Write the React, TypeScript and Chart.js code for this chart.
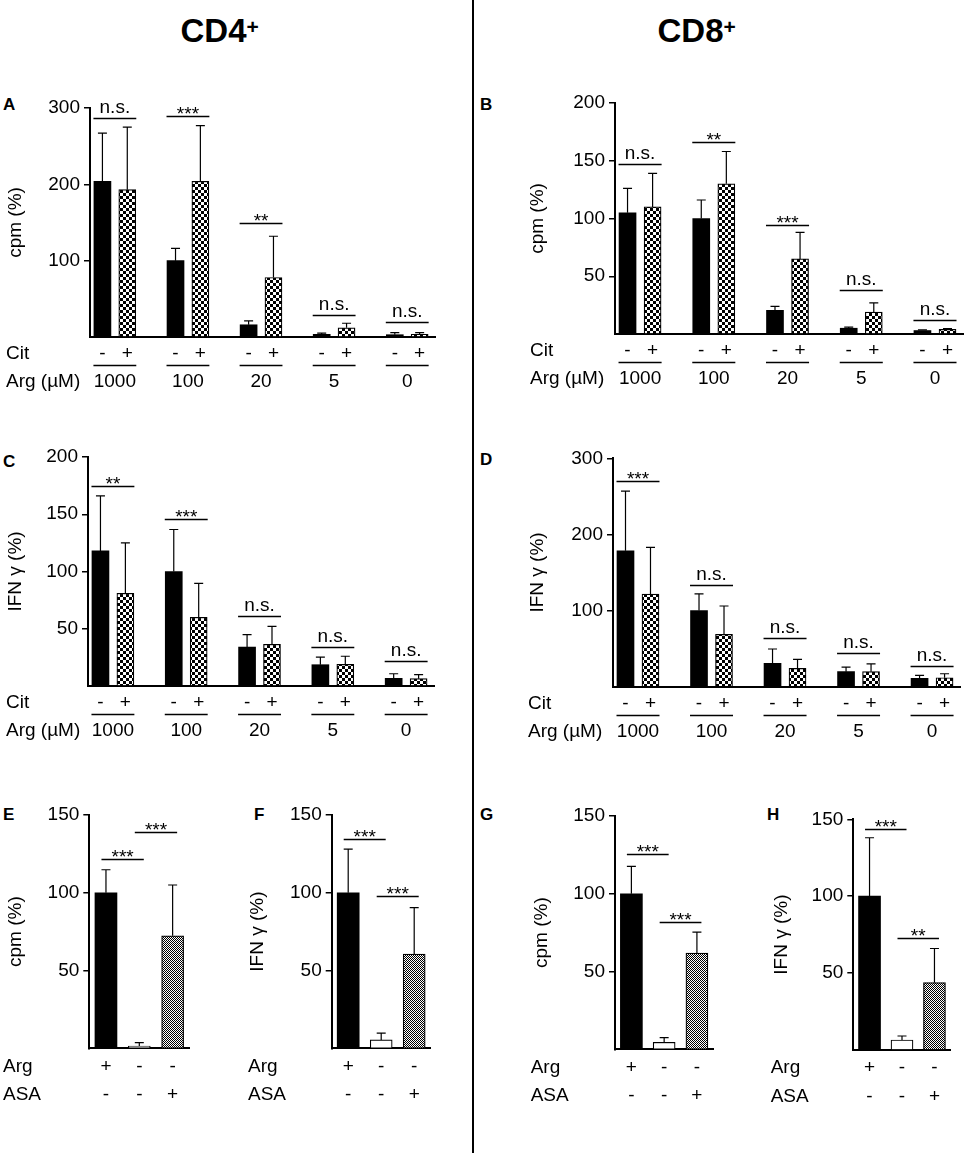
import { useEffect, useRef } from "react";
import { Chart, registerables } from "chart.js";

Chart.register(...registerables);

const FONT = "'Liberation Sans', Arial, Helvetica, sans-serif";
const INK = "#000";

// x-axis annotation rows
const argLevels = ["1000", "100", "20", "5", "0"];
const citSigns = ["-", "+"];
const argSigns = ["+", "-", "-"];
const asaSigns = ["-", "-", "+"];

// A: CD4+ proliferation, cpm (%)
const cd4CpmNoCit = [204, 100, 16, 3.5, 3];
const cd4CpmNoCitSd = [63, 16, 5, 1.5, 2.7];
const cd4CpmCit = [193, 204, 78, 12, 3.5];
const cd4CpmCitSd = [82, 73, 54, 6, 2.2];
const cd4CpmSig = ["n.s.", "***", "**", "n.s.", "n.s."];
const cd4CpmSigAt = [287, 290, 150, 29, 19];

// B: CD8+ proliferation, cpm (%)
const cd8CpmNoCit = [105, 100, 20.5, 5, 3];
const cd8CpmNoCitSd = [21, 16, 3.5, 1, 0.6];
const cd8CpmCit = [110, 130, 65, 19, 4];
const cd8CpmCitSd = [29, 28, 23, 8, 0.6];
const cd8CpmSig = ["n.s.", "**", "***", "n.s.", "n.s."];
const cd8CpmSigAt = [147, 166, 94, 38, 12.5];

// C: CD4+ IFN gamma (%)
const cd4IfnNoCit = [118, 100, 34, 18.6, 6.7];
const cd4IfnNoCitSd = [48, 36.7, 10.8, 6.7, 4];
const cd4IfnCit = [81, 60, 36.4, 18.9, 6.4];
const cd4IfnCitSd = [44, 29.6, 15.6, 7.1, 3.5];
const cd4IfnSig = ["**", "***", "n.s.", "n.s.", "n.s."];
const cd4IfnSigAt = [174.5, 146, 61, 33.7, 22];

// D: CD8+ IFN gamma (%)
const cd8IfnNoCit = [178.6, 100, 30.6, 19.7, 11];
const cd8IfnNoCitSd = [78.4, 22, 18.9, 6.1, 4];
const cd8IfnCit = [121.7, 68.7, 24, 19.7, 11.8];
const cd8IfnCitSd = [61.3, 37.3, 12, 10.3, 5.2];
const cd8IfnSig = ["***", "n.s.", "n.s.", "n.s.", "n.s."];
const cd8IfnSigAt = [270.5, 134, 63.5, 43.8, 27];

// E-H: Arg / ASA, bars compared pairwise (0-1, 1-2)
const asaPairs = [
  [0, 1],
  [1, 2],
];
const cd4CpmAsa = [100, 1.5, 72.3];
const cd4CpmAsaSd = [14.8, 2.1, 32.7];
const cd4CpmAsaSig = ["***", "***"];
const cd4CpmAsaSigAt = [121.9, 138.8];

const cd4IfnAsa = [100, 5.4, 60.5];
const cd4IfnAsaSd = [28, 4.3, 30];
const cd4IfnAsaSig = ["***", "***"];
const cd4IfnAsaSigAt = [134.7, 98];

const cd8CpmAsa = [100, 4.5, 61.9];
const cd8CpmAsaSd = [17.6, 3, 13.5];
const cd8CpmAsaSig = ["***", "***"];
const cd8CpmAsaSigAt = [125.5, 81.6];

const cd8IfnAsa = [100, 6.5, 43.8];
const cd8IfnAsaSd = [38, 2.6, 22.2];
const cd8IfnAsaSig = ["***", "**"];
const cd8IfnAsaSigAt = [143.8, 72.7];

// x range of the Cit panels, in group units, and half distance between paired bars
const XMIN = -0.34;
const XMAX = 4.38;
const HALF = 0.17;

type Box = {
  left: number;
  top: number;
  width: number;
  height: number;
  x0: number;
  x1: number;
  yTop: number;
  yBase: number;
  titleX: number;
  labelX: number;
};

function checker(cell: number) {
  const c = document.createElement("canvas");
  c.width = c.height = cell * 2;
  const g = c.getContext("2d")!;
  g.fillStyle = "#fff";
  g.fillRect(0, 0, cell * 2, cell * 2);
  g.fillStyle = INK;
  g.fillRect(0, 0, cell, cell);
  g.fillRect(cell, cell, cell, cell);
  return g.createPattern(c, "repeat")!;
}

function hline(ctx: CanvasRenderingContext2D, x1: number, x2: number, y: number) {
  ctx.beginPath();
  ctx.moveTo(x1, y);
  ctx.lineTo(x2, y);
  ctx.stroke();
}

function sigText(ctx: CanvasRenderingContext2D, label: string, x: number, ly: number) {
  ctx.textBaseline = "alphabetic";
  ctx.fillText(label, x, label.startsWith("*") ? ly + 3 : ly - 6);
}

function drawErrors(chart: any, series: [number[], number[]][]) {
  const { ctx } = chart;
  const y = chart.scales.y;
  ctx.save();
  ctx.strokeStyle = INK;
  ctx.lineWidth = 1.2;
  series.forEach(([vals, sds], d) => {
    chart.getDatasetMeta(d).data.forEach((bar: any, i: number) => {
      const top = y.getPixelForValue(vals[i] + sds[i]);
      ctx.beginPath();
      ctx.moveTo(bar.x, bar.y);
      ctx.lineTo(bar.x, top);
      ctx.moveTo(bar.x - 4.5, top);
      ctx.lineTo(bar.x + 4.5, top);
      ctx.stroke();
    });
  });
  ctx.restore();
}

function frame(box: Box, title: string, max: number, step: number) {
  const padLeft = Math.max(0, box.titleX - box.left - 15.4);
  const axisFont = { family: FONT, size: 19 };
  return {
    responsive: false,
    animation: false as const,
    events: [],
    layout: {
      padding: {
        left: padLeft,
        top: box.yTop - box.top,
        right: box.left + box.width - box.x1,
        bottom: box.top + box.height - box.yBase,
      },
    },
    plugins: { legend: { display: false }, tooltip: { enabled: false } },
    y: {
      min: 0,
      max,
      ticks: {
        stepSize: step,
        color: INK,
        font: axisFont,
        padding: 4,
        callback: (v: number) => (v === 0 ? "" : v),
      },
      grid: {
        drawOnChartArea: false,
        tickLength: 6,
        lineWidth: 1.5,
        color: (c: any) => (c.tick && c.tick.value === 0 ? "rgba(0,0,0,0)" : INK),
      },
      border: { color: INK, width: 2 },
      title: {
        display: true,
        text: title,
        color: INK,
        font: axisFont,
        padding: { top: 4, bottom: 0 },
      },
      afterFit: (s: any) => {
        s.width = box.x0 - box.left - padLeft;
      },
    },
    xBase: {
      ticks: { display: false },
      grid: { display: false },
      border: { color: INK, width: 2 },
      afterFit: (s: any) => {
        s.height = 0;
      },
    },
  };
}

type CitPanel = {
  box: Box;
  title: string;
  max: number;
  step: number;
  noCit: number[];
  noCitSd: number[];
  cit: number[];
  citSd: number[];
  sig: string[];
  sigAt: number[];
};

function citChart(p: CitPanel) {
  const f = frame(p.box, p.title, p.max, p.step);
  const plugin = {
    id: "citMarks",
    afterDatasetsDraw(chart: any) {
      drawErrors(chart, [
        [p.noCit, p.noCitSd],
        [p.cit, p.citSd],
      ]);
    },
    afterDraw(chart: any) {
      const { ctx } = chart;
      const y = chart.scales.y;
      const base = chart.chartArea.bottom;
      const minus = chart.getDatasetMeta(0).data;
      const plus = chart.getDatasetMeta(1).data;
      ctx.save();
      ctx.fillStyle = INK;
      ctx.strokeStyle = INK;
      ctx.lineWidth = 1.3;
      ctx.font = `19px ${FONT}`;
      ctx.textAlign = "center";
      argLevels.forEach((lvl, i) => {
        const l = minus[i].x - 9;
        const r = plus[i].x + 9;
        const mid = (l + r) / 2;
        const ly = Math.round(y.getPixelForValue(p.sigAt[i])) + 0.5;
        hline(ctx, l, r, ly);
        sigText(ctx, p.sig[i], mid, ly);
        ctx.textBaseline = "middle";
        ctx.fillText(citSigns[0], minus[i].x, base + 17);
        ctx.fillText(citSigns[1], plus[i].x, base + 17);
        hline(ctx, l, r, Math.round(base + 28) + 0.5);
        ctx.fillText(lvl, mid, base + 45);
      });
      ctx.textAlign = "left";
      const lx = p.box.labelX - p.box.left;
      ctx.fillText("Cit", lx, base + 17);
      ctx.fillText("Arg (µM)", lx, base + 45);
      ctx.restore();
    },
  };
  const coarse = checker(3);
  return {
    type: "bar",
    data: {
      datasets: [
        {
          label: "Cit -",
          data: p.noCit.map((v, i) => ({ x: i - HALF, y: v })),
          backgroundColor: INK,
          borderWidth: 0,
          barThickness: 17,
          grouped: false,
        },
        {
          label: "Cit +",
          data: p.cit.map((v, i) => ({ x: i + HALF, y: v })),
          backgroundColor: coarse,
          borderColor: INK,
          borderWidth: 1.2,
          barThickness: 17,
          grouped: false,
        },
      ],
    },
    options: {
      responsive: f.responsive,
      animation: f.animation,
      events: f.events,
      layout: f.layout,
      plugins: f.plugins,
      scales: {
        x: { type: "linear", min: XMIN, max: XMAX, offset: false, ...f.xBase },
        y: f.y,
      },
    },
    plugins: [plugin],
  };
}

type AsaPanel = {
  box: Box;
  title: string;
  values: number[];
  sd: number[];
  sig: string[];
  sigAt: number[];
};

function asaChart(p: AsaPanel) {
  const f = frame(p.box, p.title, 150, 50);
  const plugin = {
    id: "asaMarks",
    afterDatasetsDraw(chart: any) {
      drawErrors(chart, [[p.values, p.sd]]);
    },
    afterDraw(chart: any) {
      const { ctx } = chart;
      const y = chart.scales.y;
      const base = chart.chartArea.bottom;
      const bars = chart.getDatasetMeta(0).data;
      ctx.save();
      ctx.fillStyle = INK;
      ctx.strokeStyle = INK;
      ctx.lineWidth = 1.3;
      ctx.font = `19px ${FONT}`;
      ctx.textAlign = "center";
      asaPairs.forEach(([a, b], k) => {
        const l = bars[a].x - 4.5;
        const r = bars[b].x + 4.5;
        const ly = Math.round(y.getPixelForValue(p.sigAt[k])) + 0.5;
        hline(ctx, l, r, ly);
        sigText(ctx, p.sig[k], (l + r) / 2, ly);
      });
      ctx.textBaseline = "middle";
      bars.forEach((bar: any, i: number) => {
        ctx.fillText(argSigns[i], bar.x, base + 18);
        ctx.fillText(asaSigns[i], bar.x, base + 46.5);
      });
      ctx.textAlign = "left";
      const lx = p.box.labelX - p.box.left;
      ctx.fillText("Arg", lx, base + 18);
      ctx.fillText("ASA", lx, base + 46.5);
      ctx.restore();
    },
  };
  return {
    type: "bar",
    data: {
      labels: argSigns.map((a, i) => `Arg ${a} / ASA ${asaSigns[i]}`),
      datasets: [
        {
          data: p.values,
          backgroundColor: [INK, "#fff", checker(1)],
          borderColor: INK,
          borderWidth: [0, 1.2, 1.2],
          barThickness: 22,
        },
      ],
    },
    options: {
      responsive: f.responsive,
      animation: f.animation,
      events: f.events,
      layout: f.layout,
      plugins: f.plugins,
      scales: {
        x: { type: "category", offset: true, ...f.xBase },
        y: f.y,
      },
    },
    plugins: [plugin],
  };
}

const boxA: Box = { left: 0, top: 70, width: 470, height: 330, x0: 90, x1: 435, yTop: 108, yBase: 337, titleX: 15, labelX: 6 };
const boxB: Box = { left: 476, top: 70, width: 489, height: 330, x0: 615, x1: 963, yTop: 103, yBase: 334, titleX: 538, labelX: 530 };
const boxC: Box = { left: 0, top: 420, width: 470, height: 330, x0: 88, x1: 434, yTop: 457, yBase: 686, titleX: 13, labelX: 6 };
const boxD: Box = { left: 476, top: 420, width: 489, height: 330, x0: 613, x1: 960, yTop: 458.3, yBase: 686.7, titleX: 538, labelX: 528 };
const boxE: Box = { left: 0, top: 790, width: 236, height: 330, x0: 89.3, x1: 189.3, yTop: 815, yBase: 1048.3, titleX: 15, labelX: 3 };
const boxF: Box = { left: 238, top: 790, width: 234, height: 330, x0: 331.7, x1: 430.7, yTop: 815, yBase: 1048.3, titleX: 258, labelX: 248 };
const boxG: Box = { left: 476, top: 790, width: 248, height: 330, x0: 615, x1: 713.3, yTop: 816, yBase: 1049.3, titleX: 541.7, labelX: 530.7 };
const boxH: Box = { left: 726, top: 790, width: 239, height: 330, x0: 853.3, x1: 950.7, yTop: 819.3, yBase: 1050, titleX: 781.7, labelX: 770.7 };

function Panel({ box, make }: { box: Box; make: () => any }) {
  const ref = useRef<HTMLCanvasElement>(null);

  useEffect(() => {
    if (!ref.current) return;
    const chart = new Chart(ref.current, make());
    return () => chart.destroy();
  }, []);

  return (
    <canvas
      ref={ref}
      width={box.width}
      height={box.height}
      style={{ position: "absolute", left: box.left, top: box.top, width: box.width, height: box.height }}
    />
  );
}

function Heading({ text, left }: { text: string; left: number }) {
  return (
    <div
      style={{
        position: "absolute",
        left,
        top: 14,
        fontSize: 33,
        lineHeight: "33px",
        fontWeight: 700,
        whiteSpace: "nowrap",
      }}
    >
      {text}
      <span style={{ fontSize: 21, position: "relative", top: -8 }}>+</span>
    </div>
  );
}

function Letter({ text, left, capTop }: { text: string; left: number; capTop: number }) {
  return (
    <div
      style={{
        position: "absolute",
        left,
        top: capTop - 2.2,
        fontSize: 17,
        lineHeight: "17px",
        fontWeight: 700,
      }}
    >
      {text}
    </div>
  );
}

export default function App() {
  return (
    <div
      style={{
        position: "absolute",
        left: 0,
        top: 0,
        width: 965,
        height: 1153,
        background: "#fff",
        overflow: "hidden",
        fontFamily: FONT,
        color: INK,
      }}
    >
      <div style={{ position: "absolute", left: 471.5, top: 0, width: 2, height: 1153, background: INK }} />
      <Heading text="CD4" left={180.5} />
      <Heading text="CD8" left={657.5} />
      <Letter text="A" left={3} capTop={98} />
      <Letter text="B" left={480} capTop={98} />
      <Letter text="C" left={3} capTop={455} />
      <Letter text="D" left={480} capTop={453} />
      <Letter text="E" left={3} capTop={808} />
      <Letter text="F" left={254} capTop={808} />
      <Letter text="G" left={480} capTop={808} />
      <Letter text="H" left={767} capTop={808} />

      <Panel
        box={boxA}
        make={() =>
          citChart({ box: boxA, title: "cpm (%)", max: 300, step: 100, noCit: cd4CpmNoCit, noCitSd: cd4CpmNoCitSd, cit: cd4CpmCit, citSd: cd4CpmCitSd, sig: cd4CpmSig, sigAt: cd4CpmSigAt })
        }
      />
      <Panel
        box={boxB}
        make={() =>
          citChart({ box: boxB, title: "cpm (%)", max: 200, step: 50, noCit: cd8CpmNoCit, noCitSd: cd8CpmNoCitSd, cit: cd8CpmCit, citSd: cd8CpmCitSd, sig: cd8CpmSig, sigAt: cd8CpmSigAt })
        }
      />
      <Panel
        box={boxC}
        make={() =>
          citChart({ box: boxC, title: "IFN γ (%)", max: 200, step: 50, noCit: cd4IfnNoCit, noCitSd: cd4IfnNoCitSd, cit: cd4IfnCit, citSd: cd4IfnCitSd, sig: cd4IfnSig, sigAt: cd4IfnSigAt })
        }
      />
      <Panel
        box={boxD}
        make={() =>
          citChart({ box: boxD, title: "IFN γ (%)", max: 300, step: 100, noCit: cd8IfnNoCit, noCitSd: cd8IfnNoCitSd, cit: cd8IfnCit, citSd: cd8IfnCitSd, sig: cd8IfnSig, sigAt: cd8IfnSigAt })
        }
      />
      <Panel
        box={boxE}
        make={() => asaChart({ box: boxE, title: "cpm (%)", values: cd4CpmAsa, sd: cd4CpmAsaSd, sig: cd4CpmAsaSig, sigAt: cd4CpmAsaSigAt })}
      />
      <Panel
        box={boxF}
        make={() => asaChart({ box: boxF, title: "IFN γ (%)", values: cd4IfnAsa, sd: cd4IfnAsaSd, sig: cd4IfnAsaSig, sigAt: cd4IfnAsaSigAt })}
      />
      <Panel
        box={boxG}
        make={() => asaChart({ box: boxG, title: "cpm (%)", values: cd8CpmAsa, sd: cd8CpmAsaSd, sig: cd8CpmAsaSig, sigAt: cd8CpmAsaSigAt })}
      />
      <Panel
        box={boxH}
        make={() => asaChart({ box: boxH, title: "IFN γ (%)", values: cd8IfnAsa, sd: cd8IfnAsaSd, sig: cd8IfnAsaSig, sigAt: cd8IfnAsaSigAt })}
      />
    </div>
  );
}
